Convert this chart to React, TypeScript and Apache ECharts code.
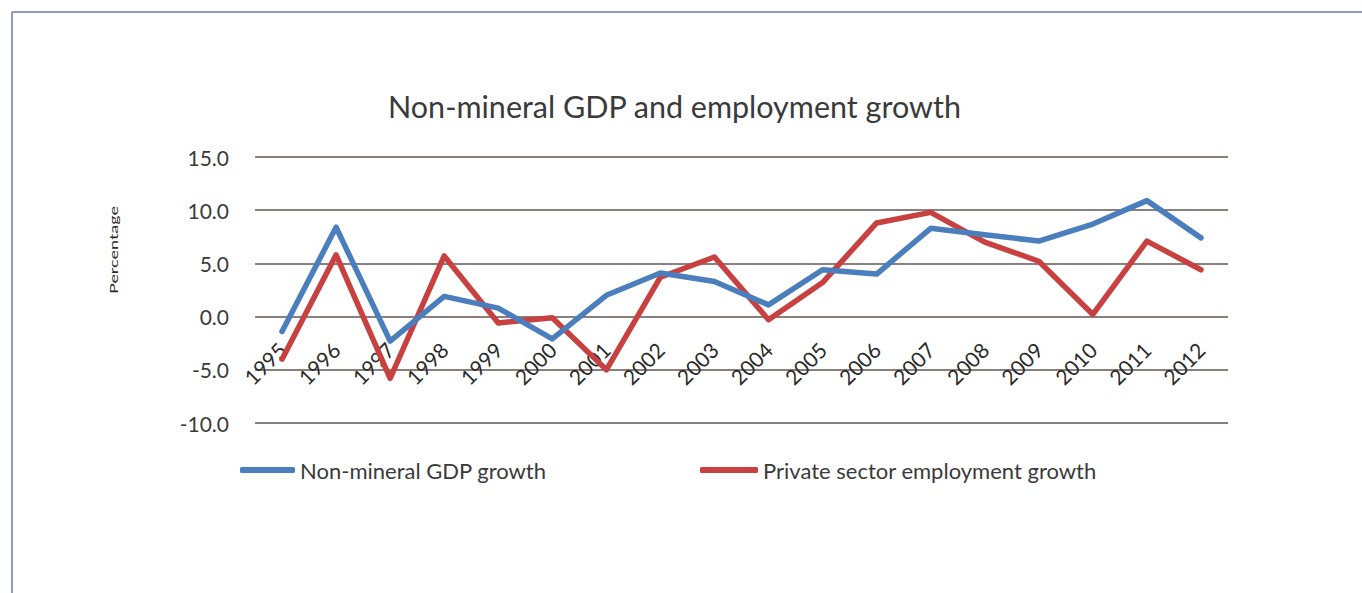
import React, { useEffect, useRef } from "react";
import * as echarts from "echarts";

const years = ["1995", "1996", "1997", "1998", "1999", "2000", "2001", "2002", "2003", "2004", "2005", "2006", "2007", "2008", "2009", "2010", "2011", "2012"];
const gdpGrowth = [-1.4, 8.4, -2.3, 1.9, 0.8, -2.1, 2.0, 4.1, 3.3, 1.1, 4.4, 4.0, 8.3, 7.7, 7.1, 8.7, 10.9, 7.4];
const employmentGrowth = [-4.0, 5.8, -5.8, 5.7, -0.6, -0.1, -5.0, 3.7, 5.6, -0.3, 3.2, 8.8, 9.8, 7.0, 5.2, 0.2, 7.1, 4.4];
const seriesNames = ["Non-mineral GDP growth", "Private sector employment growth"];
const titleText = "Non-mineral GDP and employment growth";
const yAxisTitle = "Percentage";

const FONT = "Lato, 'Open Sans', sans-serif";

export default function App() {
  const ref = useRef<HTMLDivElement>(null);
  useEffect(() => {
    if (!ref.current) return;
    const chart = echarts.init(ref.current, null, { renderer: "svg" });
    chart.setOption({
      animation: false,
      backgroundColor: "#ffffff",
      title: {
        text: titleText,
        left: 388,
        top: 86,
        padding: 0,
        textStyle: { fontFamily: FONT, fontSize: 30.5, fontWeight: "normal", color: "#3a3a3a", lineHeight: 40 },
      },
      legend: [
        {
          data: [seriesNames[0]],
          left: 240,
          top: 459,
          padding: 0,
          icon: "roundRect",
          itemWidth: 55,
          itemHeight: 6,
          textStyle: { fontFamily: FONT, fontSize: 22, color: "#3a3a3a" },
        },
        {
          data: [seriesNames[1]],
          left: 700,
          top: 459,
          padding: 0,
          icon: "roundRect",
          itemWidth: 58,
          itemHeight: 6,
          textStyle: { fontFamily: FONT, fontSize: 22, color: "#3a3a3a" },
        },
      ],
      grid: { left: 255, right: 134, top: 157, bottom: 170, containLabel: false },
      xAxis: {
        type: "category",
        data: years,
        boundaryGap: true,
        position: "bottom",
        offset: -106,
        axisLine: { show: false, onZero: false },
        axisTick: { show: false },
        axisLabel: {
          rotate: 45,
          margin: 29,
          interval: 0,
          hideOverlap: false,
          fontFamily: FONT,
          fontSize: 21,
          color: "#2a2a2a",
        },
        splitLine: { show: false },
      },
      yAxis: {
        type: "value",
        min: -10,
        max: 15,
        interval: 5,
        axisLine: { show: false },
        axisTick: { show: false },
        axisLabel: {
          margin: 26,
          fontFamily: FONT,
          fontSize: 21,
          color: "#3a3a3a",
          formatter: (v: number) => v.toFixed(1),
        },
        splitLine: { show: true, lineStyle: { color: "#8a7f7d", width: 2 } },
      },
      graphic: [
        {
          type: "text",
          x: 113,
          y: 250,
          rotation: Math.PI / 2,
          scaleX: 1.5,
          style: {
            text: yAxisTitle,
            fontFamily: FONT,
            fontSize: 12,
            fill: "#2a2a2a",
            align: "center",
            verticalAlign: "middle",
          },
        },
        {
          type: "line",
          shape: { x1: 12, y1: 12, x2: 1362, y2: 12 },
          style: { stroke: "#8f9bc6", lineWidth: 2 },
        },
        {
          type: "line",
          shape: { x1: 12, y1: 12, x2: 12, y2: 593 },
          style: { stroke: "#8f9bc6", lineWidth: 2 },
        },
      ],
      series: [
        {
          name: seriesNames[0],
          type: "line",
          data: gdpGrowth,
          showSymbol: false,
          symbol: "none",
          color: "#4a7ebd",
          lineStyle: { width: 5.5, color: "#4a7ebd", join: "round", cap: "round" },
          z: 3,
        },
        {
          name: seriesNames[1],
          type: "line",
          data: employmentGrowth,
          showSymbol: false,
          symbol: "none",
          color: "#c8403f",
          lineStyle: { width: 5.5, color: "#c8403f", join: "round", cap: "round" },
          z: 2,
        },
      ],
    });
    return () => chart.dispose();
  }, []);
  return (
    <div
      ref={ref}
      style={{ position: "absolute", left: 0, top: 0, width: 1362, height: 593 }}
    />
  );
}
